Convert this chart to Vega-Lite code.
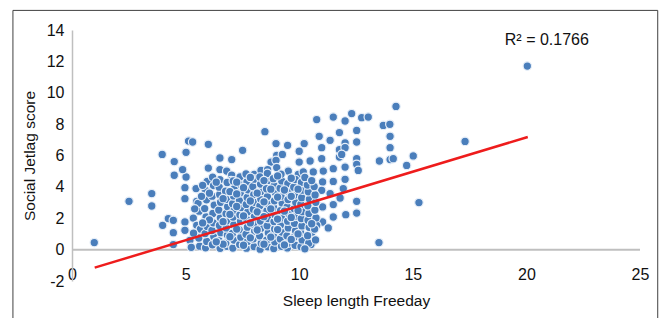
{
"$schema": "https://vega.github.io/schema/vega-lite/v6.json",
"width": 568, "height": 251,
"autosize": "none",
"padding": {"left": 72, "top": 30, "right": 19, "bottom": 37},
"background": "white",
"config": {"view": {"stroke": null}, "font": "Liberation Sans"},
"encoding": {
  "x": {"field": "sleep", "type": "quantitative",
    "scale": {"domain": [0, 25], "nice": false, "zero": false},
    "axis": {"title": "Sleep length Freeday", "values": [0,5,10,15,20,25], "labelExpr": "datum.value", "domain": false, "ticks": false, "grid": false,
      "labelPadding": -15, "labelFlush": false, "labelOverlap": false, "labelBound": false, "labelFontSize": 16, "labelColor": "#111111", "labelFont": "Liberation Sans",
      "titleFontSize": 15.5, "titleFontWeight": "normal", "titleColor": "#111111", "titleFont": "Liberation Sans", "titlePadding": 11}},
  "y": {"field": "sjl", "type": "quantitative",
    "scale": {"domain": [-2, 14], "nice": false, "zero": false},
    "axis": {"title": "Social Jetlag score", "values": [-2,0,2,4,6,8,10,12,14], "labelExpr": "datum.value", "domain": true, "domainColor": "#bfbfbf", "domainWidth": 1.5, "ticks": false, "grid": false,
      "labelPadding": 8, "labelFlush": false, "labelOverlap": false, "labelBound": false, "labelFontSize": 16, "labelColor": "#111111", "labelFont": "Liberation Sans",
      "titleFontSize": 15.5, "titleFontWeight": "normal", "titleColor": "#111111", "titleFont": "Liberation Sans", "titlePadding": 9}}
},
"layer": [
  {"data": {"values": [{"sleep": -2.6, "sleep2": 25.78, "sjl": 15.25, "sjl2": -4.8}]},
   "mark": {"type": "rect", "fill": null, "fillOpacity": 0, "stroke": "#404040", "strokeWidth": 1},
   "encoding": {"x2": {"field": "sleep2"}, "y2": {"field": "sjl2"}}},
  {"data": {"values": [{"sleep": 0, "sjl": 0}, {"sleep": 25, "sjl": 0}]},
   "mark": {"type": "line", "color": "#bfbfbf", "strokeWidth": 2}},
  {"data": {"values": [
{"sleep":0.98,"sjl":0.45},{"sleep":2.51,"sjl":3.08},{"sleep":3.51,"sjl":3.57},{"sleep":3.51,"sjl":2.78},{"sleep":3.99,"sjl":1.55},
{"sleep":4.24,"sjl":1.98},{"sleep":4.46,"sjl":1.87},{"sleep":4.97,"sjl":3.95},{"sleep":5.46,"sjl":3.89},{"sleep":4.97,"sjl":3.25},
{"sleep":5.49,"sjl":3.08},{"sleep":4.5,"sjl":4.74},{"sleep":5.02,"sjl":4.63},{"sleep":4.46,"sjl":1.08},{"sleep":4.97,"sjl":1.76},
{"sleep":4.97,"sjl":1.23},{"sleep":5.34,"sjl":2.01},{"sleep":4.46,"sjl":0.32},{"sleep":5.19,"sjl":0.59},{"sleep":5.49,"sjl":1.55},
{"sleep":3.97,"sjl":6.07},{"sleep":5.13,"sjl":6.92},{"sleep":5.31,"sjl":6.86},{"sleep":5.02,"sjl":6.2},{"sleep":4.5,"sjl":5.61},
{"sleep":4.87,"sjl":5.1},{"sleep":8.49,"sjl":7.52},{"sleep":6.0,"sjl":6.71},{"sleep":7.51,"sjl":6.33},{"sleep":8.98,"sjl":6.76},
{"sleep":9.49,"sjl":6.65},{"sleep":6.51,"sjl":5.84},{"sleep":7.03,"sjl":5.74},{"sleep":6.0,"sjl":5.2},{"sleep":6.51,"sjl":5.1},
{"sleep":6.81,"sjl":5.01},{"sleep":7.03,"sjl":4.74},{"sleep":9.01,"sjl":6.01},{"sleep":9.26,"sjl":6.07},{"sleep":10.0,"sjl":6.27},
{"sleep":10.22,"sjl":6.76},{"sleep":8.76,"sjl":5.58},{"sleep":8.98,"sjl":5.69},{"sleep":10.0,"sjl":5.58},{"sleep":8.02,"sjl":4.8},
{"sleep":8.32,"sjl":5.05},{"sleep":8.61,"sjl":5.1},{"sleep":9.01,"sjl":5.23},{"sleep":9.52,"sjl":5.01},{"sleep":9.96,"sjl":4.8},
{"sleep":14.26,"sjl":9.13},{"sleep":10.77,"sjl":8.29},{"sleep":11.5,"sjl":8.45},{"sleep":12.02,"sjl":8.2},{"sleep":12.31,"sjl":8.67},
{"sleep":12.75,"sjl":8.41},{"sleep":13.04,"sjl":8.45},{"sleep":13.7,"sjl":7.92},{"sleep":13.99,"sjl":7.99},{"sleep":10.88,"sjl":7.22},
{"sleep":11.77,"sjl":7.46},{"sleep":12.53,"sjl":7.6},{"sleep":11.36,"sjl":6.97},{"sleep":12.02,"sjl":6.8},{"sleep":12.53,"sjl":6.86},
{"sleep":14.0,"sjl":7.22},{"sleep":10.99,"sjl":6.5},{"sleep":11.77,"sjl":6.37},{"sleep":12.02,"sjl":6.5},{"sleep":14.0,"sjl":6.5},
{"sleep":10.99,"sjl":5.8},{"sleep":11.77,"sjl":5.9},{"sleep":11.87,"sjl":6.07},{"sleep":12.53,"sjl":5.8},{"sleep":13.53,"sjl":5.65},
{"sleep":14.0,"sjl":5.74},{"sleep":14.14,"sjl":5.8},{"sleep":10.48,"sjl":5.65},{"sleep":11.5,"sjl":5.16},{"sleep":12.02,"sjl":5.26},
{"sleep":12.53,"sjl":5.44},{"sleep":12.6,"sjl":5.05},{"sleep":14.73,"sjl":5.37},{"sleep":10.18,"sjl":4.95},{"sleep":10.62,"sjl":4.95},
{"sleep":11.06,"sjl":5.01},{"sleep":17.3,"sjl":6.9},{"sleep":15.02,"sjl":5.97},{"sleep":15.27,"sjl":3.0},{"sleep":13.51,"sjl":0.45},
{"sleep":12.53,"sjl":3.08},{"sleep":12.53,"sjl":2.33},{"sleep":12.05,"sjl":2.23},{"sleep":11.5,"sjl":2.87},{"sleep":11.5,"sjl":2.08},
{"sleep":11.03,"sjl":2.72},{"sleep":11.03,"sjl":1.76},{"sleep":11.8,"sjl":3.29},{"sleep":12.02,"sjl":4.48},{"sleep":11.5,"sjl":4.35},
{"sleep":11.03,"sjl":4.31},{"sleep":11.28,"sjl":1.38},{"sleep":10.77,"sjl":1.55},{"sleep":10.55,"sjl":1.08},{"sleep":10.52,"sjl":0.32},
{"sleep":10.99,"sjl":3.78},{"sleep":11.36,"sjl":3.57},{"sleep":11.94,"sjl":3.89},{"sleep":20.04,"sjl":11.7},
{"sleep":6.51,"sjl":4.46},{"sleep":7.0,"sjl":4.4},{"sleep":7.95,"sjl":4.46},{"sleep":8.4,"sjl":4.5},{"sleep":8.8,"sjl":4.5},
{"sleep":5.62,"sjl":0.22},{"sleep":5.58,"sjl":0.74},{"sleep":5.65,"sjl":1.31},{"sleep":5.6,"sjl":2.45},{"sleep":5.55,"sjl":2.95},
{"sleep":5.88,"sjl":0.12},{"sleep":5.93,"sjl":0.52},{"sleep":5.86,"sjl":1.02},{"sleep":5.95,"sjl":1.48},{"sleep":5.9,"sjl":2.08},{"sleep":5.84,"sjl":2.62},{"sleep":5.92,"sjl":3.18},{"sleep":5.87,"sjl":3.78},{"sleep":5.95,"sjl":4.35},
{"sleep":6.18,"sjl":0.31},{"sleep":6.24,"sjl":0.83},{"sleep":6.16,"sjl":1.22},{"sleep":6.22,"sjl":1.71},{"sleep":6.2,"sjl":2.31},{"sleep":6.26,"sjl":2.84},{"sleep":6.17,"sjl":3.41},{"sleep":6.23,"sjl":4.08},{"sleep":6.19,"sjl":4.62},
{"sleep":6.52,"sjl":0.08},{"sleep":6.47,"sjl":0.58},{"sleep":6.55,"sjl":1.08},{"sleep":6.49,"sjl":1.54},{"sleep":6.53,"sjl":2.03},{"sleep":6.46,"sjl":2.52},{"sleep":6.54,"sjl":3.02},{"sleep":6.5,"sjl":3.52},{"sleep":6.48,"sjl":3.98},
{"sleep":6.82,"sjl":0.21},{"sleep":6.77,"sjl":0.42},{"sleep":6.84,"sjl":0.93},{"sleep":6.79,"sjl":1.38},{"sleep":6.83,"sjl":1.84},{"sleep":6.78,"sjl":2.29},{"sleep":6.85,"sjl":2.74},{"sleep":6.8,"sjl":3.21},{"sleep":6.76,"sjl":3.72},{"sleep":6.83,"sjl":4.28},
{"sleep":7.08,"sjl":0.1},{"sleep":7.13,"sjl":0.61},{"sleep":7.06,"sjl":1.03},{"sleep":7.12,"sjl":1.58},{"sleep":7.09,"sjl":2.08},{"sleep":7.14,"sjl":2.51},{"sleep":7.07,"sjl":2.93},{"sleep":7.11,"sjl":3.42},{"sleep":7.15,"sjl":3.91},{"sleep":7.1,"sjl":4.38},
{"sleep":7.38,"sjl":0.32},{"sleep":7.43,"sjl":0.79},{"sleep":7.36,"sjl":1.27},{"sleep":7.42,"sjl":1.81},{"sleep":7.39,"sjl":2.22},{"sleep":7.44,"sjl":2.68},{"sleep":7.37,"sjl":3.12},{"sleep":7.41,"sjl":3.63},{"sleep":7.45,"sjl":4.12},{"sleep":7.4,"sjl":4.64},
{"sleep":7.68,"sjl":0.09},{"sleep":7.73,"sjl":0.52},{"sleep":7.66,"sjl":0.98},{"sleep":7.72,"sjl":1.43},{"sleep":7.69,"sjl":1.92},{"sleep":7.74,"sjl":2.41},{"sleep":7.67,"sjl":2.88},{"sleep":7.71,"sjl":3.33},{"sleep":7.75,"sjl":3.81},{"sleep":7.7,"sjl":4.31},{"sleep":7.66,"sjl":4.82},
{"sleep":8.02,"sjl":0.19},{"sleep":7.97,"sjl":0.68},{"sleep":8.04,"sjl":1.18},{"sleep":7.99,"sjl":1.62},{"sleep":8.03,"sjl":2.11},{"sleep":7.98,"sjl":2.58},{"sleep":8.05,"sjl":3.02},{"sleep":8.0,"sjl":3.51},{"sleep":7.96,"sjl":4.02},{"sleep":8.03,"sjl":4.49},
{"sleep":8.28,"sjl":0.03},{"sleep":8.33,"sjl":0.41},{"sleep":8.26,"sjl":0.88},{"sleep":8.32,"sjl":1.37},{"sleep":8.29,"sjl":1.82},{"sleep":8.34,"sjl":2.29},{"sleep":8.27,"sjl":2.79},{"sleep":8.31,"sjl":3.22},{"sleep":8.35,"sjl":3.71},{"sleep":8.3,"sjl":4.18},{"sleep":8.27,"sjl":4.63},
{"sleep":8.62,"sjl":0.18},{"sleep":8.57,"sjl":0.61},{"sleep":8.64,"sjl":1.08},{"sleep":8.59,"sjl":1.52},{"sleep":8.63,"sjl":1.98},{"sleep":8.58,"sjl":2.48},{"sleep":8.65,"sjl":2.91},{"sleep":8.6,"sjl":3.38},{"sleep":8.56,"sjl":3.88},{"sleep":8.63,"sjl":4.41},{"sleep":8.6,"sjl":4.86},
{"sleep":8.88,"sjl":0.07},{"sleep":8.93,"sjl":0.49},{"sleep":8.86,"sjl":0.92},{"sleep":8.92,"sjl":1.32},{"sleep":8.89,"sjl":1.79},{"sleep":8.94,"sjl":2.21},{"sleep":8.87,"sjl":2.69},{"sleep":8.91,"sjl":3.11},{"sleep":8.95,"sjl":3.62},{"sleep":8.9,"sjl":4.08},{"sleep":8.86,"sjl":4.52},
{"sleep":9.22,"sjl":0.21},{"sleep":9.17,"sjl":0.68},{"sleep":9.24,"sjl":1.12},{"sleep":9.19,"sjl":1.58},{"sleep":9.23,"sjl":2.02},{"sleep":9.18,"sjl":2.49},{"sleep":9.25,"sjl":2.98},{"sleep":9.2,"sjl":3.41},{"sleep":9.16,"sjl":3.92},{"sleep":9.23,"sjl":4.38},{"sleep":9.2,"sjl":4.81},
{"sleep":9.48,"sjl":0.11},{"sleep":9.53,"sjl":0.42},{"sleep":9.46,"sjl":0.88},{"sleep":9.52,"sjl":1.38},{"sleep":9.49,"sjl":1.81},{"sleep":9.54,"sjl":2.28},{"sleep":9.47,"sjl":2.72},{"sleep":9.51,"sjl":3.19},{"sleep":9.55,"sjl":3.68},{"sleep":9.5,"sjl":4.21},
{"sleep":9.82,"sjl":0.28},{"sleep":9.77,"sjl":0.79},{"sleep":9.84,"sjl":1.21},{"sleep":9.79,"sjl":1.68},{"sleep":9.83,"sjl":2.12},{"sleep":9.78,"sjl":2.61},{"sleep":9.85,"sjl":3.01},{"sleep":9.8,"sjl":3.48},{"sleep":9.76,"sjl":3.98},{"sleep":9.83,"sjl":4.47},
{"sleep":10.08,"sjl":0.19},{"sleep":10.13,"sjl":0.62},{"sleep":10.06,"sjl":1.08},{"sleep":10.12,"sjl":1.51},{"sleep":10.09,"sjl":1.98},{"sleep":10.14,"sjl":2.42},{"sleep":10.07,"sjl":2.88},{"sleep":10.11,"sjl":3.31},{"sleep":10.15,"sjl":3.79},{"sleep":10.1,"sjl":4.28},
{"sleep":10.42,"sjl":0.41},{"sleep":10.37,"sjl":0.89},{"sleep":10.44,"sjl":1.42},{"sleep":10.39,"sjl":1.88},{"sleep":10.43,"sjl":2.31},{"sleep":10.38,"sjl":2.79},{"sleep":10.45,"sjl":3.22},{"sleep":10.4,"sjl":3.69},{"sleep":10.36,"sjl":4.12},
{"sleep":10.72,"sjl":0.62},{"sleep":10.68,"sjl":1.31},{"sleep":10.74,"sjl":2.02},{"sleep":10.69,"sjl":2.52},{"sleep":10.73,"sjl":3.02},{"sleep":10.7,"sjl":3.49},{"sleep":10.66,"sjl":4.02},
{"sleep":6.65,"sjl":0.35},{"sleep":6.95,"sjl":0.82},{"sleep":7.25,"sjl":1.31},{"sleep":7.55,"sjl":0.28},{"sleep":7.85,"sjl":0.75},{"sleep":8.15,"sjl":1.25},{"sleep":8.45,"sjl":0.35},{"sleep":8.75,"sjl":0.8},{"sleep":9.05,"sjl":1.28},{"sleep":9.35,"sjl":0.3},
{"sleep":9.65,"sjl":0.65},{"sleep":9.95,"sjl":1.0},{"sleep":6.65,"sjl":1.78},{"sleep":6.95,"sjl":2.25},{"sleep":7.25,"sjl":2.75},{"sleep":7.55,"sjl":2.15},{"sleep":7.85,"sjl":1.7},{"sleep":8.15,"sjl":2.4},{"sleep":8.45,"sjl":2.1},{"sleep":8.75,"sjl":2.6},
{"sleep":9.05,"sjl":1.95},{"sleep":9.35,"sjl":2.45},{"sleep":9.65,"sjl":2.05},{"sleep":9.95,"sjl":2.5},{"sleep":6.65,"sjl":3.25},{"sleep":6.95,"sjl":3.7},{"sleep":7.25,"sjl":3.55},{"sleep":7.55,"sjl":3.95},{"sleep":7.85,"sjl":3.1},{"sleep":8.15,"sjl":3.6},
{"sleep":8.45,"sjl":3.05},{"sleep":8.75,"sjl":3.85},{"sleep":9.05,"sjl":3.35},{"sleep":9.35,"sjl":3.8},{"sleep":9.65,"sjl":3.4},{"sleep":9.95,"sjl":3.85},{"sleep":7.25,"sjl":4.3},{"sleep":7.85,"sjl":4.6},{"sleep":8.45,"sjl":4.4},{"sleep":9.05,"sjl":4.7},
{"sleep":9.65,"sjl":4.55},{"sleep":6.35,"sjl":4.3},{"sleep":6.05,"sjl":3.6},{"sleep":6.05,"sjl":1.9},{"sleep":6.35,"sjl":0.5},{"sleep":5.75,"sjl":1.7},{"sleep":10.25,"sjl":4.6},{"sleep":10.55,"sjl":4.4},{"sleep":10.25,"sjl":0.05},{"sleep":10.55,"sjl":1.65},
{"sleep":5.25,"sjl":0.15},{"sleep":5.35,"sjl":1.05},{"sleep":5.4,"sjl":2.6},{"sleep":5.75,"sjl":4.1},{"sleep":5.7,"sjl":3.4}
   ]},
   "mark": {"type": "point", "shape": "circle", "filled": true, "size": 72, "fill": "#4a7ebb", "stroke": "#e6eef8", "strokeWidth": 1.2, "opacity": 1, "fillOpacity": 1}},
  {"data": {"values": [{"sleep": 1.0, "sjl": -1.15}, {"sleep": 20.06, "sjl": 7.18}]},
   "mark": {"type": "line", "color": "#ee1c1c", "strokeWidth": 2.5}},
  {"data": {"values": [{"sleep": 20.9, "sjl": 13.34, "label": "R² = 0.1766"}]},
   "mark": {"type": "text", "align": "center", "baseline": "middle", "fontSize": 16, "font": "Liberation Sans", "color": "#111111"},
   "encoding": {"text": {"field": "label"}}}
]
}
